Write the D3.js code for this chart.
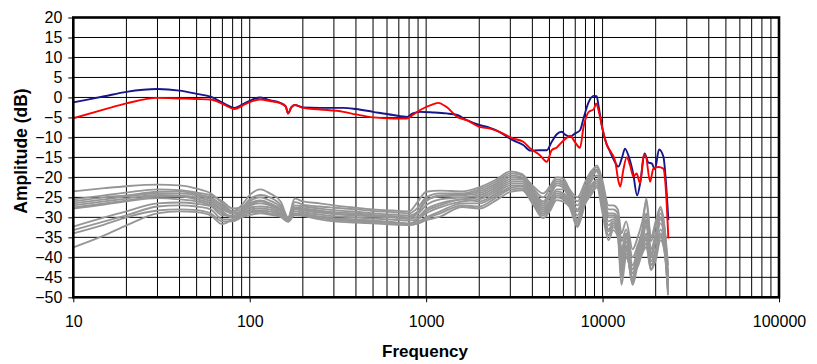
<!DOCTYPE html>
<html><head><meta charset="utf-8">
<script src="https://cdn.jsdelivr.net/npm/d3@7"></script>
<style>
html,body{margin:0;padding:0;background:#fff;}
svg{display:block;font-family:Arial,"Liberation Sans",sans-serif;}
</style></head>
<body><svg id="chart" width="817" height="364"></svg>
<script>
// ---------- data ----------
const xTicks = [10, 100, 1000, 10000, 100000];
const yTicks = [-50, -45, -40, -35, -30, -25, -20, -15, -10, -5, 0, 5, 10, 15, 20];
const xLabel = "Frequency";
const yLabel = "Amplitude (dB)";

const blueSeries = [[10,-1.25],[15,0.3],[20,1.4],[30,2.1],[40,1.7],[50,0.9],[60,0.2],[70,-1.3],[82,-2.6],[95,-1.3],[115,0],[130,-0.7],[150,-1.4],[160,-2.2],[165,-4],[172,-2.5],[180,-1.9],[200,-2.5],[250,-2.6],[340,-2.6],[400,-2.9],[500,-3.6],[650,-4.4],[780,-4.85],[840,-4],[920,-3.6],[1090,-3.75],[1300,-4],[1500,-4.4],[1700,-5.7],[2000,-6.9],[2300,-7.6],[2600,-8.6],[3100,-10.7],[3550,-11.9],[3900,-13.3],[4400,-13.2],[4830,-13.2],[5150,-11.1],[5500,-9.2],[5870,-8.6],[6130,-9.3],[6540,-9.8],[6980,-9],[7450,-8.2],[7800,-5.2],[8350,-1.1],[8900,0.4],[9250,0.3],[9520,-2.5],[9940,-7.5],[10500,-11.5],[11000,-13.5],[11700,-16],[12300,-17.3],[12900,-15],[13400,-12.8],[14000,-14.5],[14900,-19],[15700,-24.5],[16400,-21],[17300,-14],[18200,-16.3],[19000,-16.5],[19800,-18],[20900,-13],[22100,-14.8],[23600,-30.7]];

const redSeries = [[10,-5.2],[15,-3],[20,-1.5],[30,-0.1],[40,-0.25],[50,-0.4],[60,-0.5],[70,-1.6],[82,-2.9],[95,-1.6],[115,-0.5],[130,-0.9],[150,-1.5],[160,-2.3],[165,-4],[172,-2.5],[180,-1.9],[200,-2.6],[250,-3],[340,-3.6],[400,-4.25],[500,-5],[650,-5.25],[780,-5.25],[840,-4.4],[920,-3.2],[1090,-1.75],[1170,-1.35],[1300,-2.35],[1500,-4.85],[1700,-5.7],[2000,-7.35],[2300,-7.8],[2600,-8.6],[3100,-10.25],[3550,-11.1],[3900,-12.75],[4400,-14.4],[4830,-16.1],[5150,-13.2],[5500,-12.5],[5870,-11.2],[6300,-10],[6540,-9.6],[6980,-11.2],[7450,-12.6],[7800,-7.4],[8350,-3.6],[8900,-3],[9200,-1.5],[9520,-3.5],[9940,-7.35],[10500,-11.5],[11200,-13.8],[11800,-16],[12300,-21],[12600,-22.3],[13100,-18.2],[13700,-15],[14300,-16.9],[14950,-19.8],[15600,-19],[16300,-21.5],[17100,-14.6],[17500,-14.4],[18600,-21.1],[19400,-17.8],[20700,-17.4],[22100,-17.8],[22750,-22],[23600,-35.3]];

const grayFreq = [10,15,20,30,40,50,60,70,80,90,100,115,130,150,165,180,200,250,300,400,500,650,800,900,1000,1200,1600,2000,2500,3000,3500,4000,4600,5000,5500,6000,6500,7200,8000,8600,9300,10000,10800,11500,12200,12800,13600,14800,15800,16800,17700,18800,20000,21300,22500,23500];

const grayA = [-23.5,-22.7,-22.2,-21.8,-22,-22.8,-24,-26.5,-28.5,-27,-24.4,-23,-24,-26.1,-30,-25.3,-26,-26.5,-27,-27.6,-28,-28.3,-28.5,-26,-23.6,-23.3,-23.5,-22.5,-20.5,-18.5,-19.2,-22.5,-25,-23,-20.5,-21,-23.5,-26,-22,-19,-17,-21,-27,-27,-28,-34,-31,-38,-35,-31,-26,-36,-32,-28,-33,-42];
const grayB = [-25.5,-24.5,-23.8,-23,-23.2,-23.8,-24.5,-26,-27.8,-27.5,-25.5,-24.4,-25,-27,-30.3,-26.2,-26.8,-27.3,-27.6,-28,-28.4,-28.7,-29,-27.5,-25,-24,-24,-23,-21,-19,-19.5,-22,-24,-22.4,-20,-20.3,-23,-25,-21,-18.5,-17.5,-22,-28,-28,-29,-36,-33,-40,-37,-33,-25.3,-35,-31,-27.4,-33,-44];
const grayC = [-26,-25,-24.5,-23.6,-23.5,-24.2,-25,-27,-28.5,-28,-26,-25,-25.8,-27.5,-30.5,-27,-27.3,-27.8,-28.2,-28.6,-29,-29.3,-29.5,-28.5,-26,-24.5,-24.3,-23.5,-21.5,-19.5,-20,-23,-26,-24,-21,-21.5,-24,-27,-22.5,-19.5,-18,-23,-29,-29,-30,-38,-34,-42,-38,-34,-29,-38,-34,-29,-34,-45];
const grayD = [-26.5,-25.5,-24.8,-24,-24,-24.5,-25.5,-27.5,-29,-28.5,-26.5,-25.8,-26.5,-28,-30.3,-27.5,-27.8,-28.3,-28.7,-29,-29.4,-29.7,-30,-29,-27,-25.5,-25,-24.5,-22.5,-20.5,-20.5,-23.5,-27,-25,-22,-22.5,-25,-28.5,-23.5,-20.5,-18.5,-24,-30,-30,-31,-40,-35,-44,-39.5,-35,-30.5,-39,-35,-30.5,-35,-46];
const grayE = [-27,-26,-25.3,-24.4,-24.5,-25,-26,-28,-29,-28.8,-27,-26.5,-27,-28.5,-30.7,-28,-28.3,-28.8,-29.2,-29.5,-29.8,-30,-30.3,-29.8,-28,-26.5,-25.5,-25,-23,-21,-21,-24,-27.5,-26,-23,-23,-25.5,-29.5,-24,-21,-19.5,-25,-31,-30.5,-32,-41,-36,-45,-40,-36,-32,-40,-36,-31.5,-36,-47];
const grayF = [-27.5,-26.5,-25.8,-24.8,-24.8,-25.5,-26.5,-28.5,-30,-29,-27.5,-27.3,-27.5,-29,-30.8,-28.5,-28.8,-29.3,-29.7,-30,-30.3,-30.6,-30.8,-30.3,-29,-27.5,-26,-25.5,-23.5,-21.5,-21.5,-24.5,-28,-26.5,-23.5,-24,-26,-30.5,-24.5,-22,-20.5,-26,-32,-31,-33,-42,-37,-46,-41,-37,-34,-41,-38,-33,-37,-48];
const grayG = [-27.8,-26.8,-26,-25.2,-25.5,-26,-27,-29,-30,-29.5,-28,-27.8,-28,-29.3,-31,-29,-29.2,-29.8,-30.2,-30.5,-30.8,-31.2,-31.5,-31,-30,-28.5,-26.5,-26.5,-24.5,-22.5,-22.3,-25.5,-29,-27.5,-24.5,-25,-26.5,-31.5,-25.5,-23,-21.5,-27,-33.5,-32,-33.5,-44,-38,-46.9,-42,-38,-35.5,-42,-39,-34,-38,-49];
const grayH = [-32.3,-30,-28.5,-26.5,-26.3,-26.6,-27.2,-29.5,-29.5,-29,-28.5,-28.3,-28.5,-29.5,-30.5,-29.2,-29.4,-30.2,-30.6,-31,-31.2,-31.5,-31.8,-31.5,-30.7,-29.8,-27.4,-27.8,-25.7,-23.6,-23.2,-26.5,-30.2,-28.6,-25.7,-26.1,-27.4,-32.4,-26.5,-24.4,-22.5,-29,-35.7,-33.2,-34.9,-46.9,-39.9,-44,-42.4,-39,-37.4,-43.2,-40.7,-35.7,-39,-49.5];
const grayI = [-33.2,-31,-29.5,-27.3,-27,-27.3,-28,-30.5,-30.5,-29.5,-27,-26,-26.8,-28.3,-30.2,-27.8,-28,-28.5,-29,-29.3,-29.6,-30,-30.3,-28.5,-25.5,-24.8,-24.5,-24,-22,-20,-20.3,-23.3,-26.5,-24.5,-21.5,-22,-24.5,-28,-23,-20,-18.3,-23.5,-29.5,-29.5,-30.5,-39,-34.5,-43,-39,-35,-31,-39.5,-35.5,-30,-35,-45.5];
const grayJ = [-34,-31.8,-30,-28.3,-28,-28.2,-29,-31,-31,-30,-29.4,-29,-29.3,-29.9,-31.1,-29.4,-29.6,-30.5,-31,-31.3,-31.5,-31.8,-31.9,-31.5,-30.3,-29,-27,-27.3,-25,-23,-22.8,-26,-29.5,-28,-25,-25.5,-27,-32,-26,-23.8,-22,-28,-34.5,-32.5,-34,-45,-39,-45.5,-41.5,-38.5,-36.5,-43,-40,-35,-38.5,-48.5];
const grayK = [-37.5,-34.5,-32,-29,-28.5,-28.7,-29.5,-31.7,-30.5,-29.8,-28.8,-28.6,-29,-29.7,-30.8,-29.3,-29.5,-30,-30.4,-30.8,-31,-31.3,-31.6,-30.5,-28.5,-27,-25.5,-26,-24,-22,-22,-25,-28.5,-27,-24,-24.5,-26.5,-31,-25,-22.5,-21,-26.5,-33,-31.5,-33,-43,-37.5,-46.5,-41,-37.5,-35,-42,-39.5,-34.5,-37.5,-47.5];
const graySeries = [grayA, grayB, grayC, grayD, grayE, grayF, grayG, grayH, grayI, grayJ, grayK];

// ---------- chart ----------
const svg = d3.select("#chart");
const L = 73.3, R = 779, T = 17.5, B = 297.3;
const x = d3.scaleLog().domain([10, 100000]).range([L, R]);
const y = d3.scaleLinear().domain([-50, 20]).range([B, T]);

// grid
const minorX = [];
for (let d = 10; d < 100000; d *= 10) for (let k = 1; k < 10; k++) minorX.push(d * k);
minorX.push(100000);
svg.append("g").selectAll("line").data(minorX).join("line")
  .attr("x1", d => x(d)).attr("x2", d => x(d)).attr("y1", T).attr("y2", B)
  .attr("stroke", "#000").attr("stroke-width", 1);
svg.append("g").selectAll("line").data(yTicks).join("line")
  .attr("x1", L).attr("x2", R).attr("y1", d => y(d)).attr("y2", d => y(d))
  .attr("stroke", "#000").attr("stroke-width", 1);

// curves
const line = d3.line().x(d => x(d[0])).y(d => y(d[1])).curve(d3.curveMonotoneX);
svg.append("g").selectAll("path").data(graySeries).join("path")
  .attr("d", s => line(s.map((v, i) => [grayFreq[i], v])))
  .attr("fill", "none").attr("stroke", "#969696").attr("stroke-width", 1.9);
svg.append("path").attr("d", line(blueSeries)).attr("fill", "none")
  .attr("stroke", "#16168a").attr("stroke-width", 1.9);
svg.append("path").attr("d", line(redSeries)).attr("fill", "none")
  .attr("stroke", "#ff0000").attr("stroke-width", 1.9);

// frame
svg.append("rect").attr("x", L).attr("y", T).attr("width", R - L).attr("height", B - T)
  .attr("fill", "none").attr("stroke", "#000").attr("stroke-width", 2.6);

// axes
const ya = svg.append("g").attr("transform", `translate(${L},0)`)
  .call(d3.axisLeft(y).tickValues(yTicks).tickSize(5).tickPadding(6).tickFormat(d3.format("d")));
ya.select(".domain").remove();
ya.selectAll("text").attr("font-size", 16).attr("font-family", "Arial, Liberation Sans, sans-serif").attr("fill", "#000");
ya.selectAll("line").attr("stroke", "#000");

const xa = svg.append("g").attr("transform", `translate(0,${B})`)
  .call(d3.axisBottom(x).tickValues(xTicks).tickSize(5).tickPadding(13).tickFormat(d3.format("d")));
xa.select(".domain").remove();
xa.selectAll("text").attr("font-size", 16).attr("font-family", "Arial, Liberation Sans, sans-serif").attr("fill", "#000");
xa.selectAll("line").attr("stroke", "#000");

svg.append("text").attr("x", 425).attr("y", 357).attr("text-anchor", "middle")
  .attr("font-size", 17).attr("font-weight", "bold").text(xLabel);
svg.append("text").attr("transform", "translate(27,151) rotate(-90)").attr("text-anchor", "middle")
  .attr("font-size", 17.5).attr("font-weight", "bold").text(yLabel);
</script></body></html>
